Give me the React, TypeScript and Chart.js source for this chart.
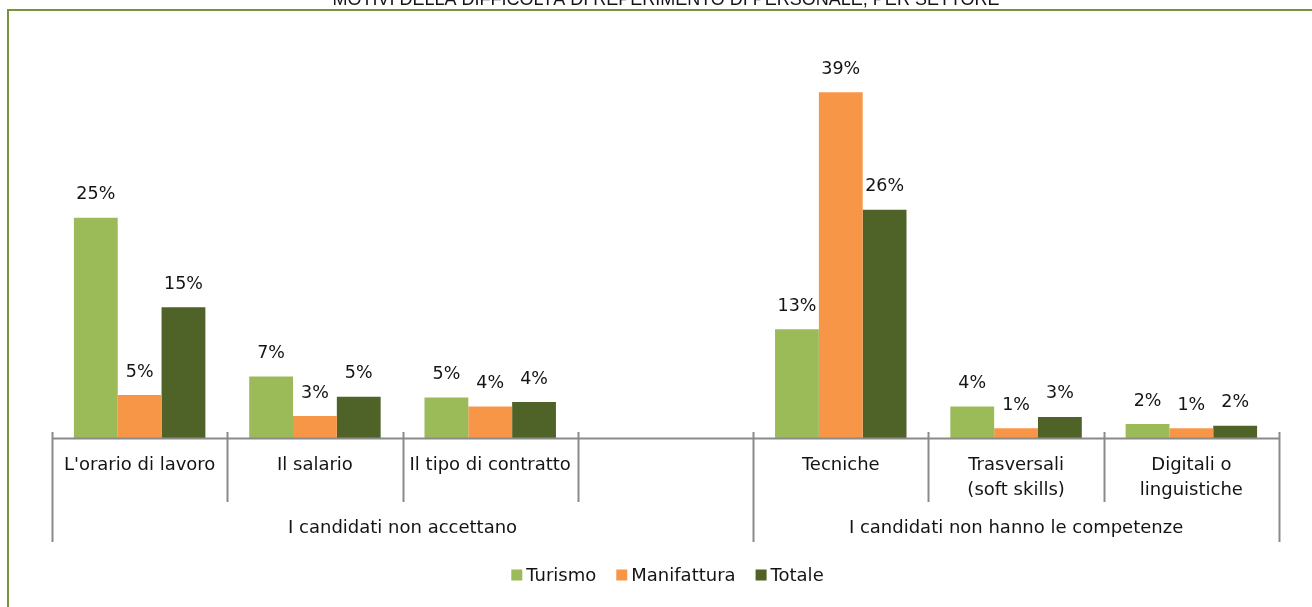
import React, { useEffect, useRef } from "react";
import { Chart, registerables } from "chart.js";

Chart.register(...registerables);

const title = "MOTIVI DELLA DIFFICOLTÀ DI REPERIMENTO DI PERSONALE, PER SETTORE";
const categories: string[][] = [
  ["L'orario di lavoro"],
  ["Il salario"],
  ["Il tipo di contratto"],
  [""],
  ["Tecniche"],
  ["Trasversali", "(soft skills)"],
  ["Digitali o", "linguistiche"],
];
const groupLabels = ["I candidati non accettano", "I candidati non hanno le competenze"];
const groupSizes = [4, 3];
const seriesNames = ["Turismo", "Manifattura", "Totale"];
const turismo = [25.1, 7.0, 4.6, null, 12.4, 3.6, 1.6];
const manifattura = [4.9, 2.5, 3.6, null, 39.4, 1.1, 1.1];
const totale = [14.9, 4.7, 4.1, null, 26.0, 2.4, 1.4];
const turismoLabels = ["25%", "7%", "5%", "", "13%", "4%", "2%"];
const manifatturaLabels = ["5%", "3%", "4%", "", "39%", "1%", "1%"];
const totaleLabels = ["15%", "5%", "4%", "", "26%", "3%", "2%"];

const COLORS = ["#9BBB59", "#F79646", "#4F6228"];
const FONT = '"DejaVu Sans", sans-serif';
const TEXT = "#141414";
const AXIS = "#8a8a8a";
const FRAME = "#77933C";

const dataLabels = [turismoLabels, manifatturaLabels, totaleLabels];

const decorPlugin = {
  id: "decor",
  beforeDraw(chart: any) {
    const ctx = chart.ctx;
    ctx.save();
    ctx.fillStyle = "#ffffff";
    ctx.fillRect(0, 0, chart.width, chart.height);
    // frame
    ctx.fillStyle = FRAME;
    ctx.fillRect(7, 9, chart.width - 7, 2);
    ctx.fillRect(7, 9, 2, chart.height - 9);
    // title (cut at top)
    ctx.fillStyle = TEXT;
    ctx.font = '18px "Liberation Sans", Arial, sans-serif';
    ctx.textAlign = "center";
    ctx.textBaseline = "alphabetic";
    ctx.fillText(title, 666, 4.5);
    ctx.restore();
  },
  afterDatasetsDraw(chart: any) {
    const ctx = chart.ctx;
    ctx.save();
    ctx.font = "17.5px " + FONT;
    ctx.fillStyle = TEXT;
    ctx.textAlign = "center";
    ctx.textBaseline = "middle";
    chart.data.datasets.forEach((ds: any, di: number) => {
      const meta = chart.getDatasetMeta(di);
      meta.data.forEach((el: any, i: number) => {
        if (ds.data[i] == null) return;
        const txt = dataLabels[di][i];
        if (!txt) return;
        ctx.fillText(txt, el.x, el.y - 23);
      });
    });
    ctx.restore();
  },
  afterDraw(chart: any) {
    const ctx = chart.ctx;
    const area = chart.chartArea;
    const n = categories.length;
    const w = (area.right - area.left) / n;
    const axisY = area.bottom + 0.5;
    ctx.save();
    // axis line
    ctx.strokeStyle = AXIS;
    ctx.lineWidth = 2;
    ctx.beginPath();
    ctx.moveTo(area.left, axisY);
    ctx.lineTo(area.right, axisY);
    ctx.stroke();
    // tick / separator lines
    const groupEdges = new Set<number>([0]);
    let acc = 0;
    groupSizes.forEach((s) => {
      acc += s;
      groupEdges.add(acc);
    });
    for (let i = 0; i <= n; i++) {
      const x = Math.round(area.left + i * w) + 0.5;
      const bottom = groupEdges.has(i) ? area.bottom + 104 : area.bottom + 64;
      ctx.beginPath();
      ctx.moveTo(x, area.bottom - 6);
      ctx.lineTo(x, bottom);
      ctx.stroke();
    }
    // category labels
    ctx.fillStyle = TEXT;
    ctx.font = "18px " + FONT;
    ctx.textAlign = "center";
    ctx.textBaseline = "middle";
    categories.forEach((lines, i) => {
      const cx = area.left + (i + 0.5) * w;
      lines.forEach((ln, li) => {
        ctx.fillText(ln, cx, area.bottom + 27 + li * 25);
      });
    });
    // group labels
    let start = 0;
    groupSizes.forEach((s, gi) => {
      const cx = area.left + (start + s / 2) * w;
      ctx.fillText(groupLabels[gi], cx, area.bottom + 90);
      start += s;
    });
    // legend
    ctx.font = "18px " + FONT;
    const box = 11;
    const gapBoxText = 4;
    const gapItems = 20;
    const widths = seriesNames.map((s) => box + gapBoxText + ctx.measureText(s).width);
    const total = widths.reduce((a, b) => a + b, 0) + gapItems * (seriesNames.length - 1);
    let lx = (area.left + area.right) / 2 + 2 - total / 2;
    const ly = area.bottom + 137;
    ctx.textAlign = "left";
    seriesNames.forEach((s, i) => {
      ctx.fillStyle = COLORS[i];
      ctx.fillRect(lx, ly - box / 2, box, box);
      ctx.fillStyle = TEXT;
      ctx.fillText(s, lx + box + gapBoxText, ly + 1);
      lx += widths[i] + gapItems;
    });
    ctx.restore();
  },
};

export default function App() {
  const ref = useRef<HTMLCanvasElement | null>(null);
  useEffect(() => {
    if (!ref.current) return;
    const chart = new Chart(ref.current, {
      type: "bar",
      data: {
        labels: categories.map((c) => c.join(" ")),
        datasets: [
          { label: seriesNames[0], data: turismo, backgroundColor: COLORS[0] },
          { label: seriesNames[1], data: manifattura, backgroundColor: COLORS[1] },
          { label: seriesNames[2], data: totale, backgroundColor: COLORS[2] },
        ],
      },
      options: {
        animation: false,
        responsive: false,
        devicePixelRatio: 1,
        layout: { padding: { left: 52, right: 33, top: 43, bottom: 169 } },
        datasets: { bar: { categoryPercentage: 0.75, barPercentage: 1, borderWidth: 0 } },
        scales: {
          x: { display: false, offset: true },
          y: { display: false, min: 0, max: 45 },
        },
        plugins: {
          legend: { display: false },
          tooltip: { enabled: false },
          title: { display: false },
        },
      },
      plugins: [decorPlugin],
    } as any);
    return () => chart.destroy();
  }, []);
  return (
    <div style={{ position: "fixed", left: 0, top: 0, width: 1312, height: 607, background: "#fff" }}>
      <canvas ref={ref} width={1312} height={607} style={{ display: "block" }} />
    </div>
  );
}
